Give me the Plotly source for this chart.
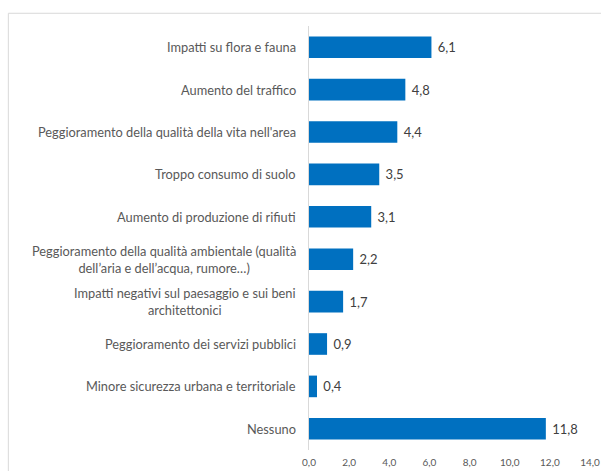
import plotly.graph_objects as go

categories = [
    "Impatti su flora e fauna",
    "Aumento del traffico",
    "Peggioramento della qualità della vita nell'area",
    "Troppo consumo di suolo",
    "Aumento di produzione di rifiuti",
    "Peggioramento della qualità ambientale (qualità<br>dell’aria e dell’acqua, rumore…)",
    "Impatti negativi sul paesaggio e sui beni<br>architettonici",
    "Peggioramento dei servizi pubblici",
    "Minore sicurezza urbana e territoriale",
    "Nessuno",
]
values = [6.1, 4.8, 4.4, 3.5, 3.1, 2.2, 1.7, 0.9, 0.4, 11.8]
x_ticks = [0, 2, 4, 6, 8, 10, 12, 14]

FONT = "Lato, 'Open Sans', sans-serif"
ids = list(range(len(categories)))

fig = go.Figure(
    go.Bar(
        x=values,
        y=ids,
        orientation="h",
        marker=dict(color="#0070C0", line=dict(width=0)),
        text=values,
        texttemplate=" %{x:.1f}",
        textposition="outside",
        textfont=dict(family=FONT, size=13, color="#404040"),
        cliponaxis=False,
        width=0.51,
    )
)

# category labels as centred annotations so wrapped lines are centred
for i, cat in zip(ids, categories):
    fig.add_annotation(
        x=0, xref="paper", y=i, yref="y",
        text=cat, showarrow=False,
        xanchor="right", xshift=-11, align="center",
        font=dict(family=FONT, size=12.8, color="#595959"),
    )

# outer frame of the chart area
fig.add_shape(
    type="rect", xref="paper", yref="paper",
    x0=-1.07, x1=1.2, y0=-0.3, y1=1.03,
    line=dict(color="#D9D9D9", width=1), fillcolor="rgba(0,0,0,0)",
    layer="above",
)

fig.update_layout(
    width=601, height=471,
    margin=dict(l=309, r=11, t=26, b=21, autoexpand=False),
    paper_bgcolor="white", plot_bgcolor="white",
    separators=",.",
    showlegend=False,
    xaxis=dict(
        range=[0, 14], tickvals=x_ticks, tickformat=".1f",
        showgrid=False, zeroline=False, showline=False, ticks="",
        tickfont=dict(family=FONT, size=10, color="#595959"),
        ticklabelstandoff=5, automargin=False,
        fixedrange=True,
    ),
    yaxis=dict(
        range=[len(categories) - 0.5, -0.5],
        tickvals=ids, showticklabels=False, ticks="",
        showgrid=False, zeroline=False, automargin=False,
        showline=True, linecolor="#D9D9D9", linewidth=1,
        fixedrange=True,
    ),
)

fig.write_html("out.html")
